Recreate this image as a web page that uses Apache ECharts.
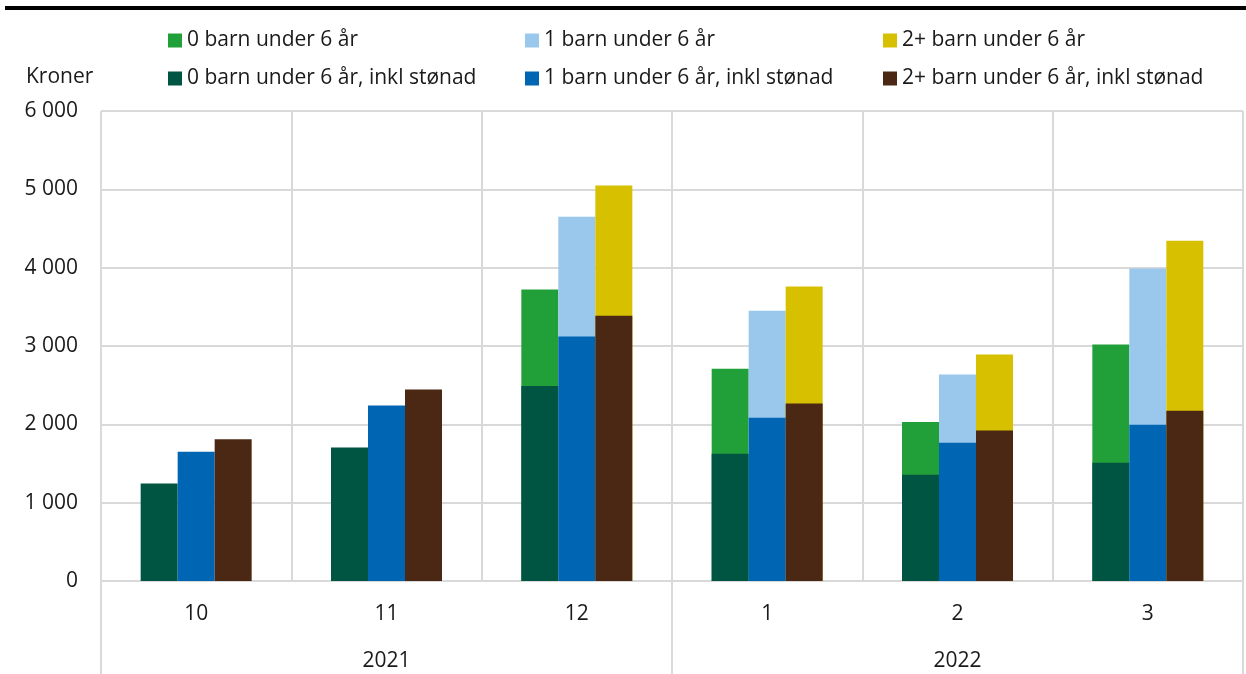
<!DOCTYPE html>
<html>
<head>
<meta charset="utf-8">
<script src="https://cdn.jsdelivr.net/npm/echarts@6/dist/echarts.min.js"></script>
<style>
html,body{margin:0;padding:0;background:#fff;}
#chart{width:1246px;height:674px;}
</style>
</head>
<body>
<div id="chart"></div>
<script>
const months = ['10','11','12','1','2','3'];
const years = ['2021','2022'];
const seriesNames = ['0 barn under 6 år','1 barn under 6 år','2+ barn under 6 år',
  '0 barn under 6 år, inkl stønad','1 barn under 6 år, inkl stønad','2+ barn under 6 år, inkl stønad'];
const barn0 = [null, null, 3720, 2710, 2030, 3020];
const barn1 = [null, null, 4650, 3450, 2635, 3990];
const barn2 = [null, null, 5050, 3760, 2890, 4345];
const barn0Stonad = [1245, 1705, 2490, 1625, 1355, 1510];
const barn1Stonad = [1650, 2240, 3120, 2085, 1765, 1995];
const barn2Stonad = [1810, 2445, 3385, 2265, 1920, 2175];
const yTicks = [0, 1000, 2000, 3000, 4000, 5000, 6000];

const colors = ['#21a03a','#99c8ec','#d7c000','#005542','#0066b3','#4a2814'];
const FONT = 'Open Sans';
const TXT = '#1a1a1a';
const GRIDC = '#d9d9d9';

const chart = echarts.init(document.getElementById('chart'), null, {renderer:'canvas'});

const legendPos = [[168,30],[525,30],[883,30],[168,68],[525,68],[883,68]];
const legends = seriesNames.map((n,i)=>({
  data:[n], left:legendPos[i][0], top:legendPos[i][1], icon:'rect',
  itemWidth:14, itemHeight:14, itemGap:0, padding:0, selectedMode:false,
  textStyle:{fontFamily:FONT, fontSize:21, color:TXT, padding:[0,0,0,0]}
}));

const backData = [barn0, barn1, barn2];
const frontData = [barn0Stonad, barn1Stonad, barn2Stonad];
const series = [];
for (let i=0;i<3;i++){
  series.push({name:seriesNames[i], type:'bar', xAxisIndex:0, data:backData[i],
    barWidth:37, barGap:'0%', itemStyle:{color:colors[i]}, z:2});
}
for (let i=0;i<3;i++){
  series.push({name:seriesNames[i+3], type:'bar', xAxisIndex:1, data:frontData[i],
    barWidth:37, barGap:'0%', itemStyle:{color:colors[i+3]}, z:3});
}

chart.setOption({
  animation:false,
  textStyle:{fontFamily:FONT},
  legend:legends,
  grid:{left:101, right:3, top:111, bottom:93, containLabel:false},
  xAxis:[
    {type:'category', data:months, position:'bottom',
      axisLine:{show:true, lineStyle:{color:GRIDC, width:2}},
      axisTick:{show:false},
      axisLabel:{fontFamily:FONT, fontSize:21, color:TXT, margin:23, interval:0},
      splitLine:{show:true, interval:0, lineStyle:{color:GRIDC, width:2}}},
    {type:'category', data:months, show:false},
    {type:'category', data:years, position:'bottom',
      axisLine:{show:false},
      axisTick:{show:true, length:93, interval:0, lineStyle:{color:GRIDC, width:2}},
      axisLabel:{fontFamily:FONT, fontSize:21, color:TXT, margin:70, interval:0},
      splitLine:{show:false}}
  ],
  yAxis:{type:'value', min:yTicks[0], max:yTicks[yTicks.length-1], interval:1000,
    axisLine:{show:false}, axisTick:{show:false},
    axisLabel:{fontFamily:FONT, fontSize:21, color:TXT, margin:23,
      formatter:v=>String(v).replace(/\B(?=(\d{3})+(?!\d))/g,' ')},
    splitLine:{show:true, lineStyle:{color:GRIDC, width:2}}},
  graphic:[
    {type:'line', shape:{x1:5, y1:8, x2:1246, y2:8}, style:{stroke:'#000', lineWidth:4}},
    {type:'text', left:26, top:67, style:{text:'Kroner', fontFamily:FONT, fontSize:21, fill:TXT}}
  ],
  series:series
});
</script>
</body>
</html>
